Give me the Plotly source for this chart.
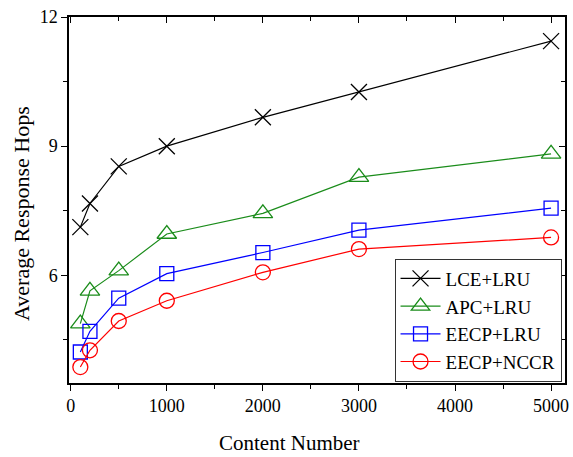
import plotly.graph_objects as go

content_number = [100, 200, 500, 1000, 2000, 3000, 5000]
lce_lru = [7.12, 7.67, 8.53, 9.00, 9.67, 10.26, 11.44]
apc_lru = [4.88, 5.64, 6.11, 6.96, 7.44, 8.28, 8.82]
eecp_lru = [4.22, 4.70, 5.47, 6.04, 6.53, 7.05, 7.56]
eecp_nccr = [3.87, 4.26, 4.94, 5.41, 6.07, 6.61, 6.88]

x_ticks = [0, 1000, 2000, 3000, 4000, 5000]
y_ticks = [6, 9, 12]

FONT = "'Liberation Serif', 'Times New Roman', Tinos, 'DejaVu Serif', serif"
series = [
    ("LCE+LRU", lce_lru, "#000000", "x-thin-open", 16),
    ("APC+LRU", apc_lru, "#1a8c1a", "triangle-up-open", 17),
    ("EECP+LRU", eecp_lru, "#0000ff", "square-open", 14),
    ("EECP+NCCR", eecp_nccr, "#ff0000", "circle-open", 15),
]

fig = go.Figure()
for name, vals, color, sym, size in series:
    fig.add_trace(go.Scatter(
        x=content_number, y=vals, name=name, mode="lines+markers",
        line=dict(color=color, width=1.2),
        marker=dict(symbol=sym, size=size, color=color, line=dict(color=color, width=1.3)),
    ))
fig.add_trace(go.Scatter(x=[], y=[], xaxis="x2", yaxis="y2", showlegend=False))

xr = [-18, 5145]
yr = [3.5, 12]
fig.update_layout(
    width=573, height=457,
    margin=dict(l=69, r=4, t=17, b=74),
    paper_bgcolor="white", plot_bgcolor="white",
    font=dict(family=FONT, size=18, color="black"),
    showlegend=True,
    legend=dict(x=0.993, y=0.34, xanchor="right", yanchor="top",
                bordercolor="#333333", borderwidth=1, bgcolor="white",
                font=dict(family=FONT, size=19), tracegroupgap=0, itemwidth=40),
    xaxis=dict(range=xr, tickvals=x_ticks, ticktext=[str(v) for v in x_ticks],
               ticks="outside", ticklen=6, tickwidth=1.3, tickcolor="black",
               showline=True, linecolor="black", linewidth=1.5,
               showgrid=False, zeroline=False,
               minor=dict(tickvals=[500, 1500, 2500, 3500, 4500], ticks="outside",
                          ticklen=4, tickwidth=1.2, tickcolor="black"),
               tickfont=dict(family=FONT, size=18)),
    yaxis=dict(range=yr, tickvals=y_ticks, ticktext=[str(v) for v in y_ticks],
               ticks="outside", ticklen=6, tickwidth=1.3, tickcolor="black",
               showline=True, linecolor="black", linewidth=1.5,
               showgrid=False, zeroline=False,
               minor=dict(tickvals=[4.5, 7.5, 10.5], ticks="outside",
                          ticklen=4, tickwidth=1.2, tickcolor="black"),
               tickfont=dict(family=FONT, size=18)),
    xaxis2=dict(range=xr, overlaying="x", side="top", anchor="y",
                tickvals=x_ticks, showticklabels=False,
                ticks="inside", ticklen=6, tickwidth=1.3, tickcolor="black",
                showline=True, linecolor="black", linewidth=1.5,
                showgrid=False, zeroline=False,
                minor=dict(tickvals=[500, 1500, 2500, 3500, 4500], ticks="inside",
                           ticklen=4, tickwidth=1.2, tickcolor="black")),
    yaxis2=dict(range=yr, overlaying="y", side="right", anchor="x",
                tickvals=y_ticks, showticklabels=False,
                ticks="inside", ticklen=6, tickwidth=1.3, tickcolor="black",
                showline=True, linecolor="black", linewidth=1.5,
                showgrid=False, zeroline=False,
                minor=dict(tickvals=[4.5, 7.5, 10.5], ticks="inside",
                           ticklen=4, tickwidth=1.2, tickcolor="black")),
    annotations=[
        dict(text="Content Number", xref="paper", yref="paper", x=0.444, y=-0.164,
             xanchor="center", yanchor="middle", showarrow=False,
             font=dict(family=FONT, size=21)),
        dict(text="Average Response Hops", xref="paper", yref="paper", x=-0.096, y=0.463,
             xanchor="center", yanchor="middle", showarrow=False, textangle=-90,
             font=dict(family=FONT, size=22)),
    ],
)

fig.write_html("out.html", config={"displayModeBar": False},
               post_script="document.body.style.margin='0px';")
